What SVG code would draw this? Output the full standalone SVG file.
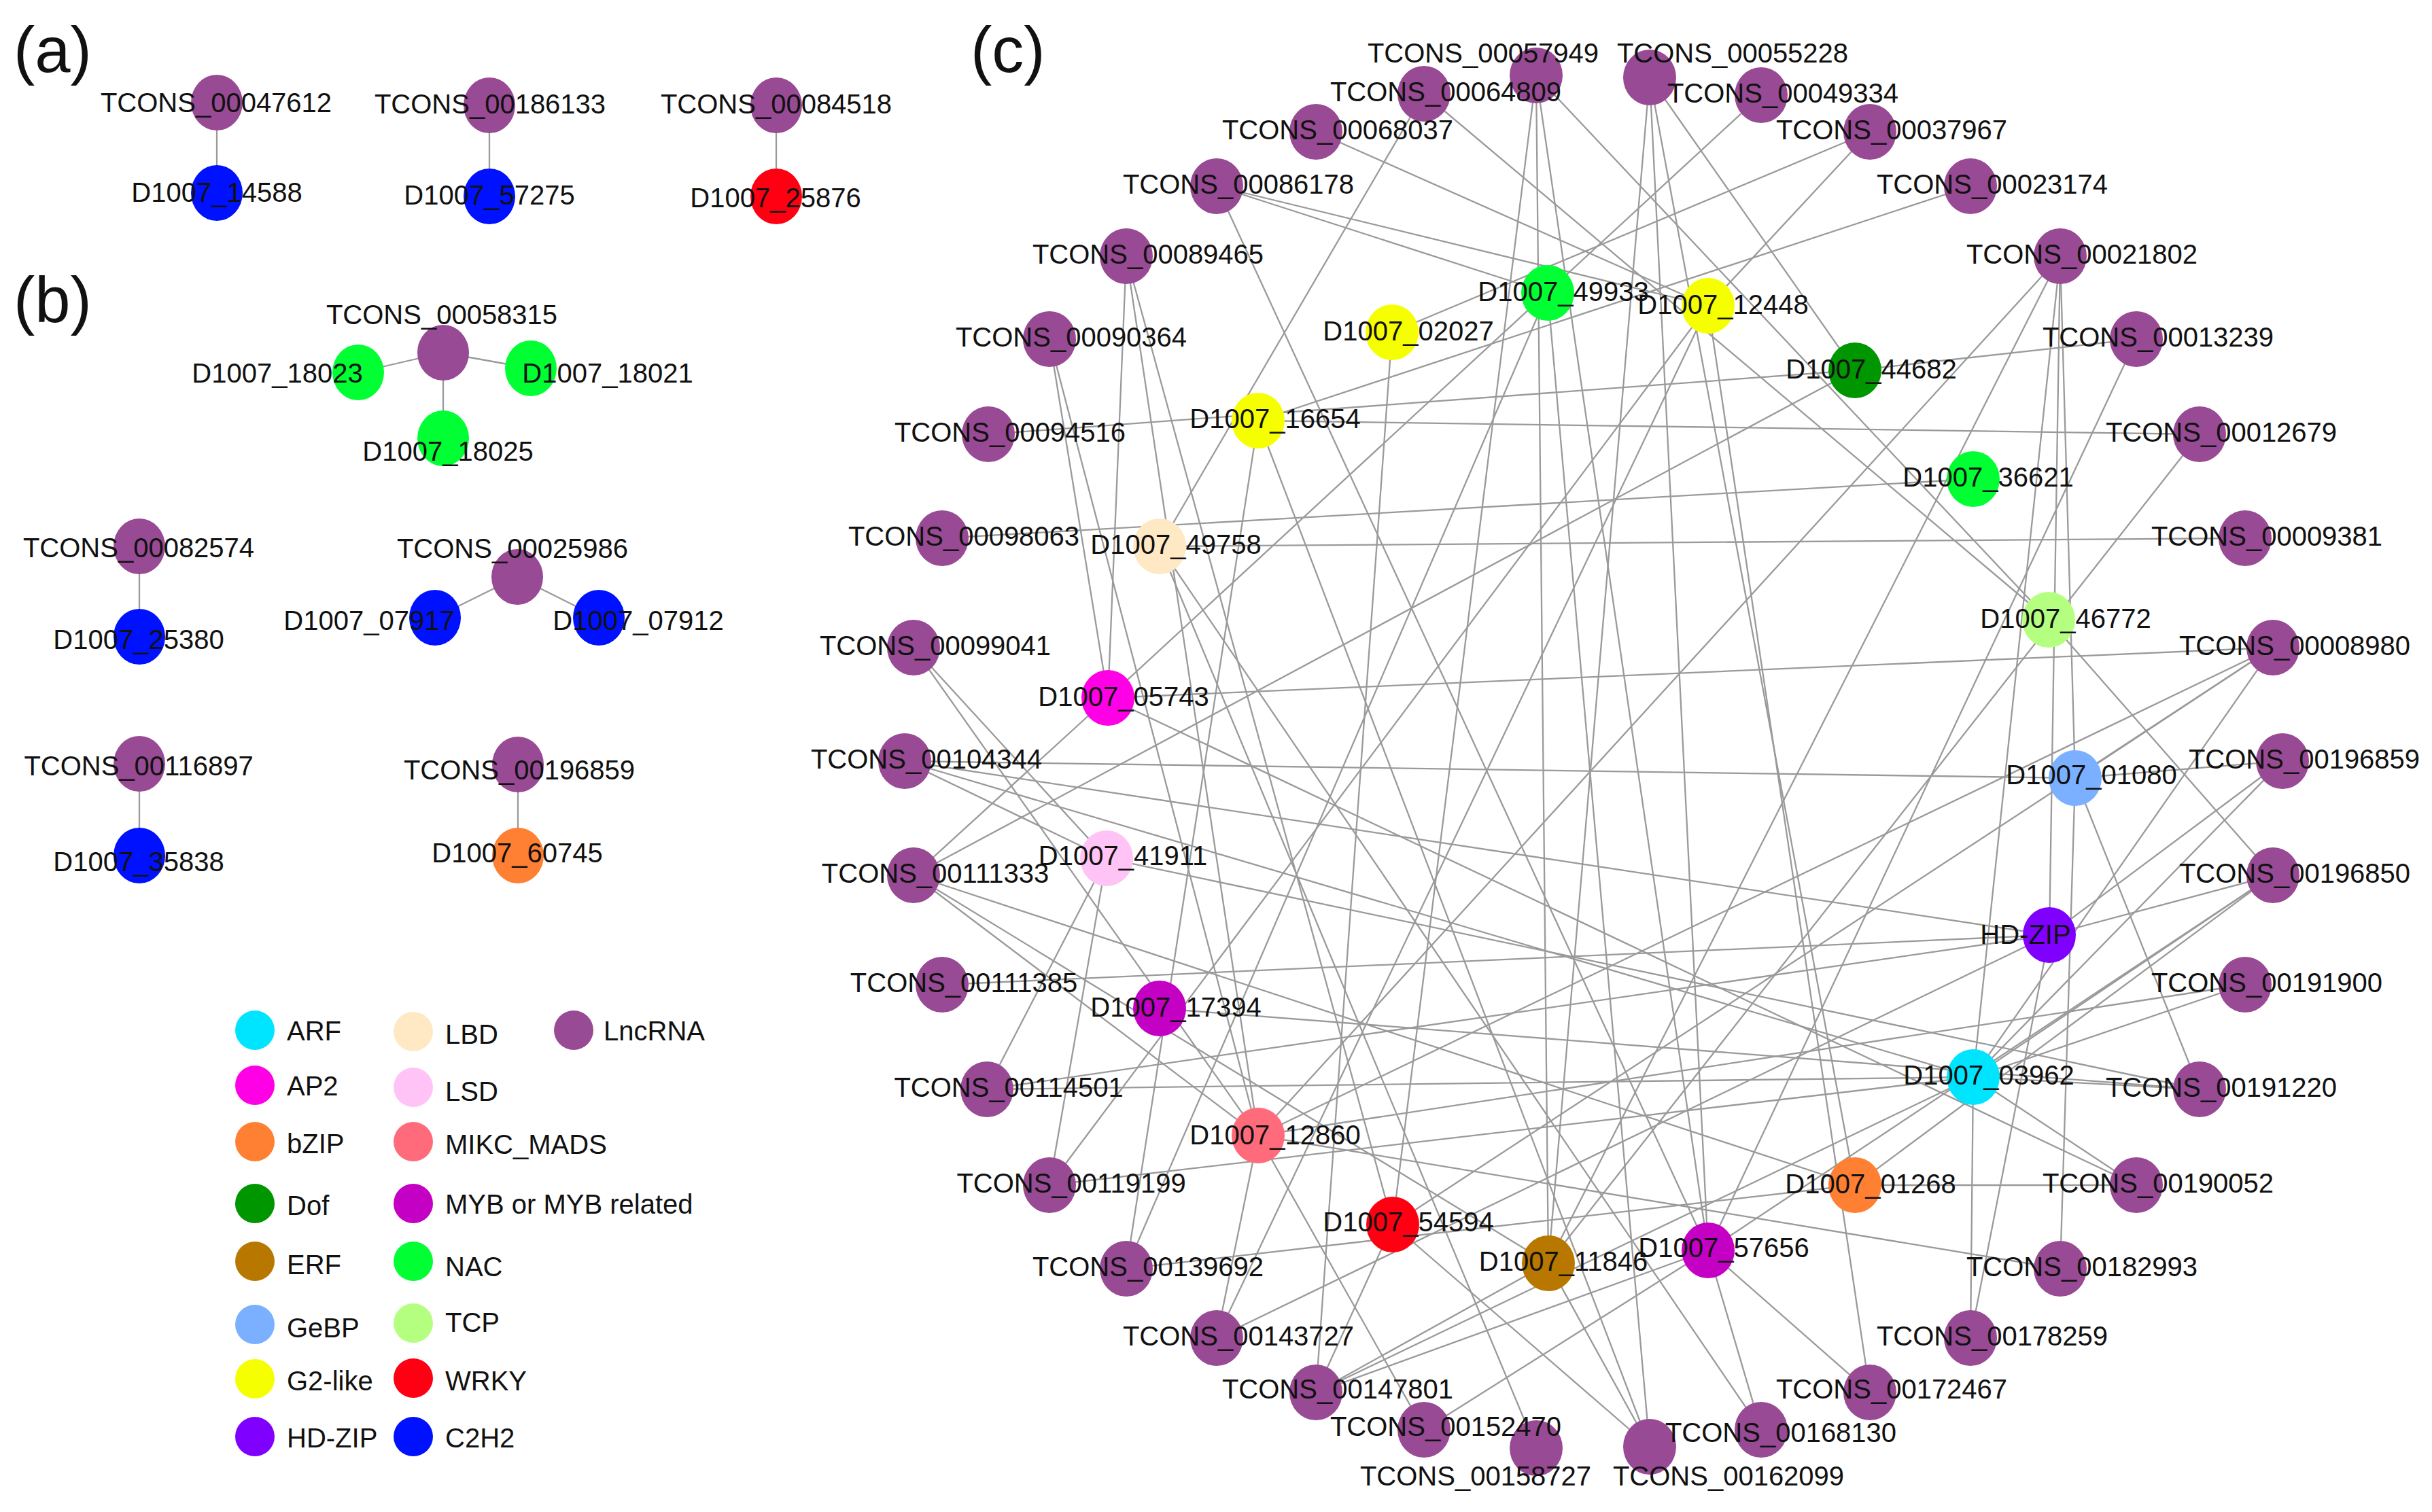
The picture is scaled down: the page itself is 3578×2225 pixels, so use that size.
<svg xmlns="http://www.w3.org/2000/svg" width="3578" height="2225" viewBox="0 0 3578 2225">
<style>
.e{stroke:#9a9a9a;stroke-width:2.3;fill:none}
.lnc{fill:#984A94}
text{font-family:"Liberation Sans",Arial,Helvetica,sans-serif;font-size:40px;fill:#111}
.m{text-anchor:middle}
.p{font-size:94px}
</style>
<rect width="3578" height="2225" fill="#fff"/>
<text class="p" x="20" y="106">(a)</text>
<text class="p" x="20" y="474">(b)</text>
<text class="p" x="1428" y="106">(c)</text>

<g id="edges-ab">
<line class="e" x1="319" y1="151" x2="319" y2="284"/>
<line class="e" x1="720" y1="155" x2="720" y2="289"/>
<line class="e" x1="1142" y1="155" x2="1142" y2="289"/>
<line class="e" x1="652" y1="519" x2="527" y2="548"/>
<line class="e" x1="652" y1="519" x2="781" y2="542"/>
<line class="e" x1="652" y1="519" x2="652" y2="645"/>
<line class="e" x1="205" y1="804" x2="205" y2="937"/>
<line class="e" x1="761" y1="849" x2="640" y2="909"/>
<line class="e" x1="761" y1="849" x2="881" y2="909"/>
<line class="e" x1="205" y1="1124" x2="205" y2="1259"/>
<line class="e" x1="762" y1="1125" x2="762" y2="1259"/>
</g>

<g id="a-nodes">
<g id="a_TCONS_00047612"><ellipse class="lnc" cx="319" cy="151" rx="38" ry="41"/><text class="m" x="318" y="165">TCONS_00047612</text></g>
<g id="a_D1007_14588"><ellipse fill="#0011FF" cx="319" cy="284" rx="38" ry="41"/><text class="m" x="319" y="297">D1007_14588</text></g>
<g id="a_TCONS_00186133"><ellipse class="lnc" cx="720" cy="155" rx="38" ry="41"/><text class="m" x="721" y="167">TCONS_00186133</text></g>
<g id="a_D1007_57275"><ellipse fill="#0011FF" cx="720" cy="289" rx="38" ry="41"/><text class="m" x="720" y="301">D1007_57275</text></g>
<g id="a_TCONS_00084518"><ellipse class="lnc" cx="1142" cy="155" rx="38" ry="41"/><text class="m" x="1142" y="167">TCONS_00084518</text></g>
<g id="a_D1007_25876"><ellipse fill="#FF0013" cx="1142" cy="289" rx="38" ry="41"/><text class="m" x="1141" y="305">D1007_25876</text></g>
</g>

<g id="b-nodes">
<g id="b_TCONS_00058315"><ellipse class="lnc" cx="652" cy="519" rx="38" ry="41"/><text class="m" x="650" y="477">TCONS_00058315</text></g>
<g id="b_D1007_18023"><ellipse fill="#00FF33" cx="527" cy="548" rx="38" ry="41"/><text class="m" x="408" y="563">D1007_18023</text></g>
<g id="b_D1007_18021"><ellipse fill="#00FF33" cx="781" cy="542" rx="38" ry="41"/><text class="m" x="894" y="563">D1007_18021</text></g>
<g id="b_D1007_18025"><ellipse fill="#00FF33" cx="652" cy="645" rx="38" ry="41"/><text class="m" x="659" y="678">D1007_18025</text></g>
<g id="b_TCONS_00082574"><ellipse class="lnc" cx="205" cy="804" rx="38" ry="41"/><text class="m" x="204" y="820">TCONS_00082574</text></g>
<g id="b_D1007_25380"><ellipse fill="#0011FF" cx="205" cy="937" rx="38" ry="41"/><text class="m" x="204" y="955">D1007_25380</text></g>
<g id="b_TCONS_00025986"><ellipse class="lnc" cx="761" cy="849" rx="38" ry="41"/><text class="m" x="754" y="821">TCONS_00025986</text></g>
<g id="b_D1007_07917"><ellipse fill="#0011FF" cx="640" cy="909" rx="38" ry="41"/><text class="m" x="543" y="927">D1007_07917</text></g>
<g id="b_D1007_07912"><ellipse fill="#0011FF" cx="881" cy="909" rx="38" ry="41"/><text class="m" x="939" y="927">D1007_07912</text></g>
<g id="b_TCONS_00116897"><ellipse class="lnc" cx="205" cy="1124" rx="38" ry="41"/><text class="m" x="204" y="1141">TCONS_00116897</text></g>
<g id="b_D1007_35838"><ellipse fill="#0011FF" cx="205" cy="1259" rx="38" ry="41"/><text class="m" x="204" y="1282">D1007_35838</text></g>
<g id="b_TCONS_00196859"><ellipse class="lnc" cx="762" cy="1125" rx="38" ry="41"/><text class="m" x="764" y="1147">TCONS_00196859</text></g>
<g id="b_D1007_60745"><ellipse fill="#FF8033" cx="762" cy="1259" rx="38" ry="41"/><text class="m" x="761" y="1269">D1007_60745</text></g>
</g>

<g id="legend">
<circle cx="375" cy="1516" r="29" fill="#00E5FF"/><text x="422" y="1531">ARF</text>
<circle cx="375" cy="1597" r="29" fill="#FF00E6"/><text x="422" y="1612">AP2</text>
<circle cx="375" cy="1680" r="29" fill="#FF8033"/><text x="422" y="1697">bZIP</text>
<circle cx="375" cy="1771" r="29" fill="#009600"/><text x="422" y="1788">Dof</text>
<circle cx="375" cy="1856" r="29" fill="#B87800"/><text x="422" y="1875">ERF</text>
<circle cx="375" cy="1949" r="29" fill="#7AB0FF"/><text x="422" y="1968">GeBP</text>
<circle cx="375" cy="2029" r="29" fill="#F5FF00"/><text x="422" y="2046">G2-like</text>
<circle cx="375" cy="2114" r="29" fill="#8000FF"/><text x="422" y="2130">HD-ZIP</text>
<circle cx="608" cy="1518" r="29" fill="#FFE8C4"/><text x="655" y="1536">LBD</text>
<circle cx="608" cy="1600" r="29" fill="#FFC4F5"/><text x="655" y="1620">LSD</text>
<circle cx="608" cy="1680" r="29" fill="#FF6B7A"/><text x="655" y="1698">MIKC_MADS</text>
<circle cx="608" cy="1771" r="29" fill="#C400C4"/><text x="655" y="1786">MYB or MYB related</text>
<circle cx="608" cy="1856" r="29" fill="#00FF33"/><text x="655" y="1878">NAC</text>
<circle cx="608" cy="1947" r="29" fill="#B5FF80"/><text x="655" y="1960">TCP</text>
<circle cx="608" cy="2028" r="29" fill="#FF0013"/><text x="655" y="2046">WRKY</text>
<circle cx="608" cy="2114" r="29" fill="#0011FF"/><text x="655" y="2130">C2H2</text>
<circle cx="844" cy="1516" r="29" fill="#984A94"/><text x="888" y="1531">LncRNA</text>
</g>

<g id="edges-c">
<line class="e" x1="2513" y1="1840" x2="1790" y2="274"/>
<line class="e" x1="2277" y1="431" x2="1790" y2="274"/>
<line class="e" x1="2513" y1="450" x2="1790" y2="274"/>
<line class="e" x1="2513" y1="450" x2="1936" y2="194"/>
<line class="e" x1="1706" y1="804" x2="2095" y2="138"/>
<line class="e" x1="1630" y1="1027" x2="1657" y2="377"/>
<line class="e" x1="1851" y1="1671" x2="1657" y2="377"/>
<line class="e" x1="1630" y1="1027" x2="1544" y2="499"/>
<line class="e" x1="1851" y1="1671" x2="1544" y2="499"/>
<line class="e" x1="2903" y1="705" x2="1386" y2="792"/>
<line class="e" x1="1706" y1="804" x2="3303" y2="792"/>
<line class="e" x1="1630" y1="1027" x2="3344" y2="953"/>
<line class="e" x1="3053" y1="1145" x2="3344" y2="953"/>
<line class="e" x1="1851" y1="1671" x2="3344" y2="953"/>
<line class="e" x1="2049" y1="1802" x2="3344" y2="953"/>
<line class="e" x1="3053" y1="1145" x2="1331" y2="1120"/>
<line class="e" x1="3015" y1="1376" x2="1452" y2="1603"/>
<line class="e" x1="2513" y1="1840" x2="2427" y2="114"/>
<line class="e" x1="2729" y1="1744" x2="2427" y2="114"/>
<line class="e" x1="2729" y1="545" x2="2427" y2="114"/>
<line class="e" x1="2048" y1="489" x2="2751" y2="194"/>
<line class="e" x1="2048" y1="489" x2="1936" y2="2049"/>
<line class="e" x1="2903" y1="1585" x2="3236" y2="1603"/>
<line class="e" x1="2903" y1="1585" x2="3143" y2="1744"/>
<line class="e" x1="2903" y1="1585" x2="2899" y2="1969"/>
<line class="e" x1="3053" y1="1145" x2="3236" y2="1603"/>
<line class="e" x1="1628" y1="1263" x2="3236" y2="1603"/>
<line class="e" x1="2729" y1="1744" x2="3143" y2="1744"/>
<line class="e" x1="3053" y1="1145" x2="3031" y2="1867"/>
<line class="e" x1="1851" y1="1671" x2="3031" y2="1867"/>
<line class="e" x1="3015" y1="1376" x2="2899" y2="1969"/>
<line class="e" x1="2513" y1="1840" x2="2751" y2="2049"/>
<line class="e" x1="2513" y1="1840" x2="2591" y2="2104"/>
<line class="e" x1="2049" y1="1802" x2="2427" y2="2129"/>
<line class="e" x1="2278" y1="1859" x2="2427" y2="2129"/>
<line class="e" x1="3015" y1="1376" x2="1331" y2="1120"/>
<line class="e" x1="2903" y1="1585" x2="1331" y2="1120"/>
<line class="e" x1="1628" y1="1263" x2="1331" y2="1120"/>
<line class="e" x1="1630" y1="1027" x2="1344" y2="1288"/>
<line class="e" x1="2729" y1="545" x2="1344" y2="1288"/>
<line class="e" x1="2729" y1="1744" x2="1344" y2="1288"/>
<line class="e" x1="2278" y1="1859" x2="1344" y2="1288"/>
<line class="e" x1="3015" y1="1376" x2="1386" y2="1449"/>
<line class="e" x1="1628" y1="1263" x2="1452" y2="1603"/>
<line class="e" x1="1628" y1="1263" x2="1544" y2="1744"/>
<line class="e" x1="1851" y1="619" x2="1657" y2="1867"/>
<line class="e" x1="2277" y1="431" x2="1657" y2="1867"/>
<line class="e" x1="2729" y1="1744" x2="1657" y2="1867"/>
<line class="e" x1="3015" y1="1376" x2="1790" y2="1969"/>
<line class="e" x1="2513" y1="1840" x2="1936" y2="2049"/>
<line class="e" x1="2278" y1="1859" x2="1936" y2="2049"/>
<line class="e" x1="2513" y1="1840" x2="2095" y2="2104"/>
<line class="e" x1="1706" y1="804" x2="2260" y2="2131"/>
<line class="e" x1="2277" y1="431" x2="2427" y2="2129"/>
<line class="e" x1="1851" y1="619" x2="2899" y2="274"/>
<line class="e" x1="1851" y1="1671" x2="3031" y2="377"/>
<line class="e" x1="2278" y1="1859" x2="3031" y2="377"/>
<line class="e" x1="2903" y1="1585" x2="3031" y2="377"/>
<line class="e" x1="3053" y1="1145" x2="3031" y2="377"/>
<line class="e" x1="3015" y1="1376" x2="3031" y2="377"/>
<line class="e" x1="2729" y1="545" x2="3143" y2="499"/>
<line class="e" x1="2513" y1="1840" x2="3143" y2="499"/>
<line class="e" x1="1851" y1="619" x2="3236" y2="639"/>
<line class="e" x1="2278" y1="1859" x2="3236" y2="639"/>
<line class="e" x1="3014" y1="912" x2="3344" y2="1288"/>
<line class="e" x1="1628" y1="1263" x2="1344" y2="953"/>
<line class="e" x1="1851" y1="1671" x2="1344" y2="953"/>
<line class="e" x1="2278" y1="1859" x2="2260" y2="111"/>
<line class="e" x1="2049" y1="1802" x2="2260" y2="111"/>
<line class="e" x1="2278" y1="1859" x2="2427" y2="114"/>
<line class="e" x1="2513" y1="1840" x2="2260" y2="111"/>
<line class="e" x1="3014" y1="912" x2="2260" y2="111"/>
<line class="e" x1="1630" y1="1027" x2="2591" y2="140"/>
<line class="e" x1="2513" y1="450" x2="2751" y2="194"/>
<line class="e" x1="2729" y1="545" x2="1454" y2="639"/>
<line class="e" x1="1851" y1="619" x2="2427" y2="2129"/>
<line class="e" x1="2903" y1="1585" x2="3358" y2="1120"/>
<line class="e" x1="2903" y1="1585" x2="3344" y2="1288"/>
<line class="e" x1="2903" y1="1585" x2="3303" y2="1449"/>
<line class="e" x1="2903" y1="1585" x2="3344" y2="953"/>
<line class="e" x1="3053" y1="1145" x2="3358" y2="1120"/>
<line class="e" x1="3015" y1="1376" x2="3358" y2="1120"/>
<line class="e" x1="2729" y1="1744" x2="3344" y2="1288"/>
<line class="e" x1="2513" y1="450" x2="1544" y2="1744"/>
<line class="e" x1="1706" y1="804" x2="2591" y2="2104"/>
<line class="e" x1="1630" y1="1027" x2="3143" y2="1744"/>
<line class="e" x1="3014" y1="912" x2="2095" y2="138"/>
<line class="e" x1="1851" y1="1671" x2="3303" y2="1449"/>
<line class="e" x1="3015" y1="1376" x2="3344" y2="1288"/>
<line class="e" x1="2903" y1="1585" x2="1452" y2="1603"/>
<line class="e" x1="2903" y1="1585" x2="1544" y2="1744"/>
<line class="e" x1="2903" y1="1585" x2="1936" y2="2049"/>
<line class="e" x1="1706" y1="1484" x2="3236" y2="1603"/>
<line class="e" x1="2049" y1="1802" x2="1657" y2="377"/>
<line class="e" x1="2049" y1="1802" x2="1936" y2="2049"/>
<line class="e" x1="1851" y1="1671" x2="1344" y2="1288"/>
<line class="e" x1="1851" y1="1671" x2="2095" y2="2104"/>
<line class="e" x1="1851" y1="1671" x2="1790" y2="1969"/>
<line class="e" x1="2513" y1="450" x2="1790" y2="1969"/>
<line class="e" x1="2513" y1="450" x2="2751" y2="2049"/>
<line class="e" x1="2513" y1="1840" x2="3344" y2="1288"/>
</g>

<g id="c-nodes">
<g id="c_TCONS_00057949"><ellipse class="lnc" cx="2260" cy="111" rx="39" ry="41"/><text class="m" x="2182" y="92">TCONS_00057949</text></g>
<g id="c_TCONS_00055228"><ellipse class="lnc" cx="2427" cy="114" rx="39" ry="41"/><text class="m" x="2549" y="92">TCONS_00055228</text></g>
<g id="c_TCONS_00064809"><ellipse class="lnc" cx="2095" cy="138" rx="39" ry="41"/><text class="m" x="2127" y="149">TCONS_00064809</text></g>
<g id="c_TCONS_00049334"><ellipse class="lnc" cx="2591" cy="140" rx="39" ry="41"/><text class="m" x="2623" y="151">TCONS_00049334</text></g>
<g id="c_TCONS_00068037"><ellipse class="lnc" cx="1936" cy="194" rx="39" ry="41"/><text class="m" x="1968" y="205">TCONS_00068037</text></g>
<g id="c_TCONS_00037967"><ellipse class="lnc" cx="2751" cy="194" rx="39" ry="41"/><text class="m" x="2783" y="205">TCONS_00037967</text></g>
<g id="c_TCONS_00086178"><ellipse class="lnc" cx="1790" cy="274" rx="39" ry="41"/><text class="m" x="1822" y="285">TCONS_00086178</text></g>
<g id="c_TCONS_00023174"><ellipse class="lnc" cx="2899" cy="274" rx="39" ry="41"/><text class="m" x="2931" y="285">TCONS_00023174</text></g>
<g id="c_TCONS_00089465"><ellipse class="lnc" cx="1657" cy="377" rx="39" ry="41"/><text class="m" x="1689" y="388">TCONS_00089465</text></g>
<g id="c_TCONS_00021802"><ellipse class="lnc" cx="3031" cy="377" rx="39" ry="41"/><text class="m" x="3063" y="388">TCONS_00021802</text></g>
<g id="c_TCONS_00090364"><ellipse class="lnc" cx="1544" cy="499" rx="39" ry="41"/><text class="m" x="1576" y="510">TCONS_00090364</text></g>
<g id="c_TCONS_00013239"><ellipse class="lnc" cx="3143" cy="499" rx="39" ry="41"/><text class="m" x="3175" y="510">TCONS_00013239</text></g>
<g id="c_TCONS_00094516"><ellipse class="lnc" cx="1454" cy="639" rx="39" ry="41"/><text class="m" x="1486" y="650">TCONS_00094516</text></g>
<g id="c_TCONS_00012679"><ellipse class="lnc" cx="3236" cy="639" rx="39" ry="41"/><text class="m" x="3268" y="650">TCONS_00012679</text></g>
<g id="c_TCONS_00098063"><ellipse class="lnc" cx="1386" cy="792" rx="39" ry="41"/><text class="m" x="1418" y="803">TCONS_00098063</text></g>
<g id="c_TCONS_00009381"><ellipse class="lnc" cx="3303" cy="792" rx="39" ry="41"/><text class="m" x="3335" y="803">TCONS_00009381</text></g>
<g id="c_TCONS_00099041"><ellipse class="lnc" cx="1344" cy="953" rx="39" ry="41"/><text class="m" x="1376" y="964">TCONS_00099041</text></g>
<g id="c_TCONS_00008980"><ellipse class="lnc" cx="3344" cy="953" rx="39" ry="41"/><text class="m" x="3376" y="964">TCONS_00008980</text></g>
<g id="c_TCONS_00104344"><ellipse class="lnc" cx="1331" cy="1120" rx="39" ry="41"/><text class="m" x="1363" y="1131">TCONS_00104344</text></g>
<g id="c_TCONS_00196859"><ellipse class="lnc" cx="3358" cy="1120" rx="39" ry="41"/><text class="m" x="3390" y="1131">TCONS_00196859</text></g>
<g id="c_TCONS_00111333"><ellipse class="lnc" cx="1344" cy="1288" rx="39" ry="41"/><text class="m" x="1376" y="1299">TCONS_00111333</text></g>
<g id="c_TCONS_00196850"><ellipse class="lnc" cx="3344" cy="1288" rx="39" ry="41"/><text class="m" x="3376" y="1299">TCONS_00196850</text></g>
<g id="c_TCONS_00111385"><ellipse class="lnc" cx="1386" cy="1449" rx="39" ry="41"/><text class="m" x="1418" y="1460">TCONS_00111385</text></g>
<g id="c_TCONS_00191900"><ellipse class="lnc" cx="3303" cy="1449" rx="39" ry="41"/><text class="m" x="3335" y="1460">TCONS_00191900</text></g>
<g id="c_TCONS_00114501"><ellipse class="lnc" cx="1452" cy="1603" rx="39" ry="41"/><text class="m" x="1484" y="1614">TCONS_00114501</text></g>
<g id="c_TCONS_00191220"><ellipse class="lnc" cx="3236" cy="1603" rx="39" ry="41"/><text class="m" x="3268" y="1614">TCONS_00191220</text></g>
<g id="c_TCONS_00119199"><ellipse class="lnc" cx="1544" cy="1744" rx="39" ry="41"/><text class="m" x="1576" y="1755">TCONS_00119199</text></g>
<g id="c_TCONS_00190052"><ellipse class="lnc" cx="3143" cy="1744" rx="39" ry="41"/><text class="m" x="3175" y="1755">TCONS_00190052</text></g>
<g id="c_TCONS_00139692"><ellipse class="lnc" cx="1657" cy="1867" rx="39" ry="41"/><text class="m" x="1689" y="1878">TCONS_00139692</text></g>
<g id="c_TCONS_00182993"><ellipse class="lnc" cx="3031" cy="1867" rx="39" ry="41"/><text class="m" x="3063" y="1878">TCONS_00182993</text></g>
<g id="c_TCONS_00143727"><ellipse class="lnc" cx="1790" cy="1969" rx="39" ry="41"/><text class="m" x="1822" y="1980">TCONS_00143727</text></g>
<g id="c_TCONS_00178259"><ellipse class="lnc" cx="2899" cy="1969" rx="39" ry="41"/><text class="m" x="2931" y="1980">TCONS_00178259</text></g>
<g id="c_TCONS_00147801"><ellipse class="lnc" cx="1936" cy="2049" rx="39" ry="41"/><text class="m" x="1968" y="2058">TCONS_00147801</text></g>
<g id="c_TCONS_00172467"><ellipse class="lnc" cx="2751" cy="2049" rx="39" ry="41"/><text class="m" x="2783" y="2058">TCONS_00172467</text></g>
<g id="c_TCONS_00158727"><ellipse class="lnc" cx="2260" cy="2131" rx="39" ry="41"/><text class="m" x="2171" y="2186">TCONS_00158727</text></g>
<g id="c_TCONS_00162099"><ellipse class="lnc" cx="2427" cy="2129" rx="39" ry="41"/><text class="m" x="2543" y="2186">TCONS_00162099</text></g>
<g id="c_TCONS_00152470"><ellipse class="lnc" cx="2095" cy="2104" rx="39" ry="41"/><text class="m" x="2127" y="2113">TCONS_00152470</text></g>
<g id="c_TCONS_00168130"><ellipse class="lnc" cx="2591" cy="2104" rx="39" ry="41"/><text class="m" x="2620" y="2122">TCONS_00168130</text></g>

<g id="c_D1007_02027"><ellipse fill="#F5FF00" cx="2048" cy="489" rx="39" ry="41"/><text class="m" x="2072" y="501">D1007_02027</text></g>
<g id="c_D1007_49933"><ellipse fill="#00FF33" cx="2277" cy="431" rx="39" ry="41"/><text class="m" x="2300" y="443">D1007_49933</text></g>
<g id="c_D1007_12448"><ellipse fill="#F5FF00" cx="2513" cy="450" rx="39" ry="41"/><text class="m" x="2535" y="462">D1007_12448</text></g>
<g id="c_D1007_44682"><ellipse fill="#009600" cx="2729" cy="545" rx="39" ry="41"/><text class="m" x="2753" y="557">D1007_44682</text></g>
<g id="c_D1007_36621"><ellipse fill="#00FF33" cx="2903" cy="705" rx="39" ry="41"/><text class="m" x="2925" y="716">D1007_36621</text></g>
<g id="c_D1007_46772"><ellipse fill="#B5FF80" cx="3014" cy="912" rx="39" ry="41"/><text class="m" x="3039" y="924">D1007_46772</text></g>
<g id="c_D1007_01080"><ellipse fill="#7AB0FF" cx="3053" cy="1145" rx="39" ry="41"/><text class="m" x="3077" y="1154">D1007_01080</text></g>
<g id="c_HD-ZIP"><ellipse fill="#8000FF" cx="3015" cy="1376" rx="39" ry="41"/><text class="m" x="2980" y="1389">HD-ZIP</text></g>
<g id="c_D1007_03962"><ellipse fill="#00E5FF" cx="2903" cy="1585" rx="39" ry="41"/><text class="m" x="2926" y="1596">D1007_03962</text></g>
<g id="c_D1007_01268"><ellipse fill="#FF8033" cx="2729" cy="1744" rx="39" ry="41"/><text class="m" x="2752" y="1756">D1007_01268</text></g>
<g id="c_D1007_57656"><ellipse fill="#C400C4" cx="2513" cy="1840" rx="39" ry="41"/><text class="m" x="2536" y="1850">D1007_57656</text></g>
<g id="c_D1007_11846"><ellipse fill="#B87800" cx="2278" cy="1859" rx="39" ry="41"/><text class="m" x="2300" y="1870">D1007_11846</text></g>
<g id="c_D1007_54594"><ellipse fill="#FF0013" cx="2049" cy="1802" rx="39" ry="41"/><text class="m" x="2072" y="1812">D1007_54594</text></g>
<g id="c_D1007_12860"><ellipse fill="#FF6B7A" cx="1851" cy="1671" rx="39" ry="41"/><text class="m" x="1876" y="1684">D1007_12860</text></g>
<g id="c_D1007_17394"><ellipse fill="#C400C4" cx="1706" cy="1484" rx="39" ry="41"/><text class="m" x="1730" y="1496">D1007_17394</text></g>
<g id="c_D1007_41911"><ellipse fill="#FFC4F5" cx="1628" cy="1263" rx="39" ry="41"/><text class="m" x="1652" y="1273">D1007_41911</text></g>
<g id="c_D1007_05743"><ellipse fill="#FF00E6" cx="1630" cy="1027" rx="39" ry="41"/><text class="m" x="1653" y="1039">D1007_05743</text></g>
<g id="c_D1007_49758"><ellipse fill="#FFE8C4" cx="1706" cy="804" rx="39" ry="41"/><text class="m" x="1730" y="815">D1007_49758</text></g>
<g id="c_D1007_16654"><ellipse fill="#F5FF00" cx="1851" cy="619" rx="39" ry="41"/><text class="m" x="1876" y="630">D1007_16654</text></g>
</g>
</svg>
